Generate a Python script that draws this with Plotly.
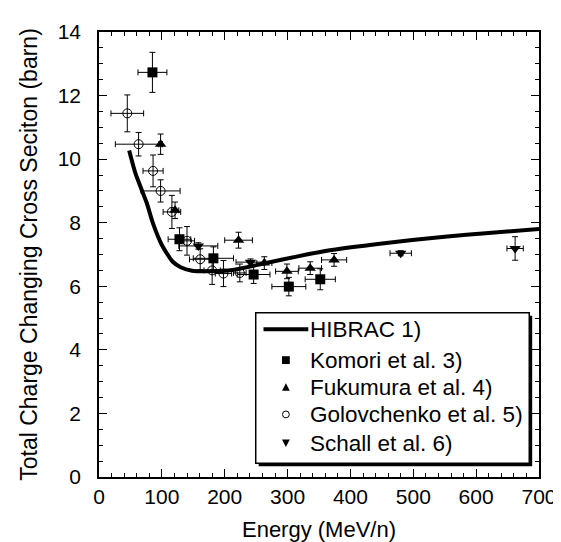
import plotly.graph_objects as go

# HIBRAC calculation (line)
hibrac_E = [48, 58, 76, 86, 100, 117, 130, 148, 173, 215, 266, 318, 370, 447, 550, 620, 700]
hibrac_s = [10.27, 9.55, 8.62, 7.97, 7.3, 6.78, 6.6, 6.49, 6.47, 6.52, 6.73, 6.95, 7.14, 7.34, 7.56, 7.68, 7.8]

# Komori et al. 3)
kom_E = [85, 128, 182, 246, 302, 352]
kom_s = [12.73, 7.48, 6.88, 6.37, 5.99, 6.22]
kom_dE = [23, 18, 32, 26, 27, 24]
kom_ds = [0.63, 0.36, 0.36, 0.28, 0.29, 0.33]

# Fukumura et al. 4)
fuk_E = [98, 121, 222, 263, 299, 336, 374]
fuk_s = [10.47, 8.39, 7.45, 6.73, 6.47, 6.57, 6.83]
fuk_dE = [3, 6, 22, 12, 18, 18, 20]
fuk_ds = [0.32, 0.26, 0.25, 0.2, 0.23, 0.2, 0.2]

# Golovchenko et al. 5)
gol_E = [45, 63, 86, 98, 116, 140, 161, 180, 198, 224]
gol_s = [11.44, 10.47, 9.63, 9.0, 8.34, 7.43, 6.85, 6.5, 6.4, 6.42]
gol_dE = [26, 37, 16, 31, 14, 12, 17, 13, 13, 10]
gol_ds = [0.58, 0.37, 0.5, 0.35, 0.52, 0.45, 0.33, 0.44, 0.41, 0.28]

# Schall et al. 6)
sch_E = [158, 241, 480, 662]
sch_s = [7.27, 6.76, 7.04, 7.19]
sch_dE = [31, 23, 17, 13]
sch_ds = [0.1, 0.1, 0.08, 0.37]

legend_labels = ["HIBRAC 1)", "Komori et al. 3)", "Fukumura et al. 4)",
                 "Golovchenko et al. 5)", "Schall et al. 6)"]

FONT = "Liberation Sans, Arial, sans-serif"

# plot area geometry (pixels)
L, R, T, B = 91, 18, 22, 65
W, H = 561, 542
PW, PH = W - L - R, H - T - B

def px(xp):
    return (xp - L) / PW

def py(yp):
    return (H - B - yp) / PH

def err(arr):
    return dict(type="data", array=arr, visible=True, color="black", thickness=1, width=3)

fig = go.Figure()
fig.add_trace(go.Scatter(x=hibrac_E, y=hibrac_s, mode="lines", name=legend_labels[0],
                         line=dict(color="black", width=4, shape="spline", smoothing=0.6)))
fig.add_trace(go.Scatter(x=kom_E, y=kom_s, mode="markers", name=legend_labels[1],
                         marker=dict(symbol="square", size=10, color="black"),
                         error_x=err(kom_dE), error_y=err(kom_ds)))
fig.add_trace(go.Scatter(x=fuk_E, y=fuk_s, mode="markers", name=legend_labels[2],
                         marker=dict(symbol="triangle-up", size=10, color="black"),
                         error_x=err(fuk_dE), error_y=err(fuk_ds)))
fig.add_trace(go.Scatter(x=gol_E, y=gol_s, mode="markers", name=legend_labels[3],
                         marker=dict(symbol="circle-open", size=9, color="black", line=dict(width=1)),
                         error_x=err(gol_dE), error_y=err(gol_ds)))
fig.add_trace(go.Scatter(x=sch_E, y=sch_s, mode="markers", name=legend_labels[4],
                         marker=dict(symbol="triangle-down", size=10, color="black"),
                         error_x=err(sch_dE), error_y=err(sch_ds)))

axis_common = dict(
    showline=True, linecolor="black", linewidth=1.5, mirror="ticks",
    ticks="inside", ticklen=8, tickwidth=1.2, tickcolor="black",
    showgrid=False, zeroline=False,
    tickfont=dict(family=FONT, size=21, color="black"),
)

fig.update_layout(
    width=W, height=H,
    margin=dict(l=L, r=R, t=T, b=B),
    paper_bgcolor="white", plot_bgcolor="white",
    font=dict(family=FONT, size=21, color="black"),
    showlegend=False,
    xaxis=dict(range=[0, 700], tick0=0, dtick=100,
               minor=dict(dtick=20, ticks="inside", ticklen=4, tickcolor="black", tickwidth=1),
               title=dict(text="Energy (MeV/n)", font=dict(family=FONT, size=22), standoff=15),
               ticklabelstandoff=0,
               **axis_common),
    yaxis=dict(range=[0, 14], tick0=0, dtick=2,
               minor=dict(dtick=0.5, ticks="inside", ticklen=4, tickcolor="black", tickwidth=1),
               title=dict(text="Total Charge Changing Cross Seciton (barn)", font=dict(family=FONT, size=23), standoff=14),
               ticklabelstandoff=12,
               **axis_common),
)

# ---- legend box (drawn as a framed panel with a drop shadow) ----
shapes = []
shapes.append(dict(type="rect", xref="paper", yref="paper",
                   x0=px(255), x1=px(536), y0=py(466), y1=py(312),
                   fillcolor="black", line=dict(width=0), layer="above"))
shapes.append(dict(type="rect", xref="paper", yref="paper",
                   x0=px(252), x1=px(533), y0=py(463), y1=py(309),
                   fillcolor="white", line=dict(color="black", width=1.5), layer="above"))

rows = [326, 357.5, 385, 413, 442.5]
cx = 283
# line sample
shapes.append(dict(type="line", xref="paper", yref="paper",
                   x0=px(260), x1=px(306), y0=py(rows[0]), y1=py(rows[0]),
                   line=dict(color="black", width=4), layer="above"))
# square
s = 4
shapes.append(dict(type="rect", xref="paper", yref="paper",
                   x0=px(cx - s), x1=px(cx + s), y0=py(rows[1] + s), y1=py(rows[1] - s),
                   fillcolor="black", line=dict(width=0), layer="above"))

def tri(yc, up=True, hw=4, hh=3.8):
    if up:
        pts = [(cx - hw, yc + hh), (cx + hw, yc + hh), (cx, yc - hh)]
    else:
        pts = [(cx - hw, yc - hh), (cx + hw, yc - hh), (cx, yc + hh)]
    path = "M " + " L ".join(f"{px(a):.5f},{py(b):.5f}" for a, b in pts) + " Z"
    return dict(type="path", xref="paper", yref="paper", path=path,
                fillcolor="black", line=dict(width=0), layer="above")

shapes.append(tri(rows[2], up=True))
# open circle
r = 3.5
shapes.append(dict(type="circle", xref="paper", yref="paper",
                   x0=px(cx - r), x1=px(cx + r), y0=py(rows[3] + r), y1=py(rows[3] - r),
                   fillcolor="white", line=dict(color="black", width=1), layer="above"))
shapes.append(tri(rows[4], up=False))

annotations = []
for lab, yr in zip(legend_labels, rows):
    annotations.append(dict(text=lab, xref="paper", yref="paper",
                            x=px(306), y=py(yr), xanchor="left", yanchor="middle",
                            showarrow=False, font=dict(family=FONT, size=22.5, color="black")))

fig.update_layout(shapes=shapes, annotations=annotations)

fig.write_html("out.html")
